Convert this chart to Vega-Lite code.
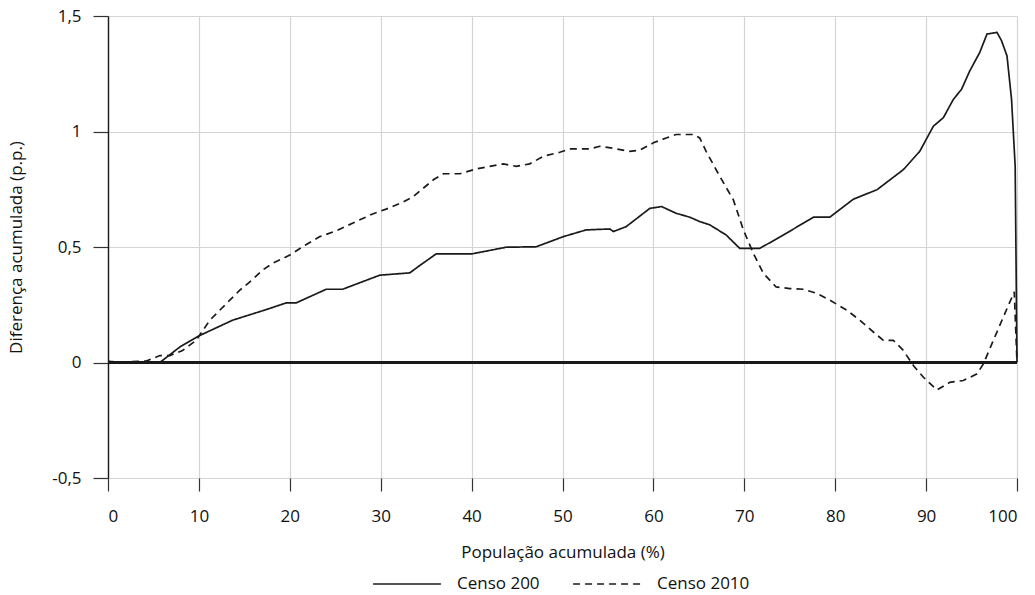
{
  "$schema": "https://vega.github.io/schema/vega-lite/v6.json",
  "width": 909,
  "height": 462,
  "autosize": "none",
  "padding": {"left": 108, "top": 16, "right": 18, "bottom": 117},
  "config": {
    "background": "white",
    "font": "Open Sans",
    "view": {"stroke": null},
    "axis": {
      "labelFont": "Open Sans",
      "titleFont": "Open Sans",
      "labelFontSize": 17,
      "titleFontSize": 17,
      "titleFontWeight": "normal",
      "labelColor": "#111111",
      "titleColor": "#111111",
      "grid": true,
      "gridColor": "#d4d4d4",
      "gridWidth": 1.2,
      "tickColor": "#333333",
      "tickWidth": 1.2
    },
    "legend": {
      "labelFont": "Open Sans",
      "labelFontSize": 17,
      "labelColor": "#111111"
    }
  },
  "data": {
    "values": [
      {"pop": 0, "dif": 0.005, "serie": "Censo 200"},
      {"pop": 2, "dif": 0, "serie": "Censo 200"},
      {"pop": 5.7, "dif": 0, "serie": "Censo 200"},
      {"pop": 7.9, "dif": 0.067, "serie": "Censo 200"},
      {"pop": 10.1, "dif": 0.117, "serie": "Censo 200"},
      {"pop": 13.7, "dif": 0.183, "serie": "Censo 200"},
      {"pop": 17.4, "dif": 0.229, "serie": "Censo 200"},
      {"pop": 19.6, "dif": 0.258, "serie": "Censo 200"},
      {"pop": 20.7, "dif": 0.258, "serie": "Censo 200"},
      {"pop": 24.0, "dif": 0.317, "serie": "Censo 200"},
      {"pop": 25.8, "dif": 0.317, "serie": "Censo 200"},
      {"pop": 29.9, "dif": 0.378, "serie": "Censo 200"},
      {"pop": 33.2, "dif": 0.388, "serie": "Censo 200"},
      {"pop": 34.3, "dif": 0.42, "serie": "Censo 200"},
      {"pop": 36.1, "dif": 0.47, "serie": "Censo 200"},
      {"pop": 40.0, "dif": 0.47, "serie": "Censo 200"},
      {"pop": 43.8, "dif": 0.499, "serie": "Censo 200"},
      {"pop": 47.1, "dif": 0.501, "serie": "Censo 200"},
      {"pop": 50.1, "dif": 0.545, "serie": "Censo 200"},
      {"pop": 52.6, "dif": 0.574, "serie": "Censo 200"},
      {"pop": 55.2, "dif": 0.578, "serie": "Censo 200"},
      {"pop": 55.6, "dif": 0.567, "serie": "Censo 200"},
      {"pop": 57.0, "dif": 0.588, "serie": "Censo 200"},
      {"pop": 59.6, "dif": 0.667, "serie": "Censo 200"},
      {"pop": 60.9, "dif": 0.675, "serie": "Censo 200"},
      {"pop": 62.5, "dif": 0.646, "serie": "Censo 200"},
      {"pop": 64.0, "dif": 0.629, "serie": "Censo 200"},
      {"pop": 65.1, "dif": 0.61, "serie": "Censo 200"},
      {"pop": 66.2, "dif": 0.596, "serie": "Censo 200"},
      {"pop": 68.0, "dif": 0.552, "serie": "Censo 200"},
      {"pop": 69.5, "dif": 0.494, "serie": "Censo 200"},
      {"pop": 71.7, "dif": 0.494, "serie": "Censo 200"},
      {"pop": 74.3, "dif": 0.552, "serie": "Censo 200"},
      {"pop": 77.6, "dif": 0.629, "serie": "Censo 200"},
      {"pop": 79.4, "dif": 0.629, "serie": "Censo 200"},
      {"pop": 82.0, "dif": 0.707, "serie": "Censo 200"},
      {"pop": 84.6, "dif": 0.748, "serie": "Censo 200"},
      {"pop": 87.5, "dif": 0.835, "serie": "Censo 200"},
      {"pop": 89.3, "dif": 0.914, "serie": "Censo 200"},
      {"pop": 90.8, "dif": 1.023, "serie": "Censo 200"},
      {"pop": 91.9, "dif": 1.06, "serie": "Censo 200"},
      {"pop": 93.0, "dif": 1.139, "serie": "Censo 200"},
      {"pop": 93.9, "dif": 1.183, "serie": "Censo 200"},
      {"pop": 94.8, "dif": 1.262, "serie": "Censo 200"},
      {"pop": 95.9, "dif": 1.342, "serie": "Censo 200"},
      {"pop": 96.7, "dif": 1.422, "serie": "Censo 200"},
      {"pop": 97.8, "dif": 1.429, "serie": "Censo 200"},
      {"pop": 98.3, "dif": 1.393, "serie": "Censo 200"},
      {"pop": 98.9, "dif": 1.327, "serie": "Censo 200"},
      {"pop": 99.4, "dif": 1.139, "serie": "Censo 200"},
      {"pop": 99.8, "dif": 0.849, "serie": "Censo 200"},
      {"pop": 100, "dif": 0, "serie": "Censo 200"},

      {"pop": 0, "dif": 0, "serie": "Censo 2010"},
      {"pop": 4.2, "dif": 0.006, "serie": "Censo 2010"},
      {"pop": 5.7, "dif": 0.03, "serie": "Censo 2010"},
      {"pop": 6.8, "dif": 0.03, "serie": "Censo 2010"},
      {"pop": 8.2, "dif": 0.052, "serie": "Censo 2010"},
      {"pop": 9.7, "dif": 0.096, "serie": "Censo 2010"},
      {"pop": 11.2, "dif": 0.183, "serie": "Censo 2010"},
      {"pop": 13.4, "dif": 0.27, "serie": "Censo 2010"},
      {"pop": 14.5, "dif": 0.313, "serie": "Censo 2010"},
      {"pop": 15.9, "dif": 0.359, "serie": "Censo 2010"},
      {"pop": 17.0, "dif": 0.4, "serie": "Censo 2010"},
      {"pop": 18.1, "dif": 0.429, "serie": "Censo 2010"},
      {"pop": 20.0, "dif": 0.465, "serie": "Censo 2010"},
      {"pop": 21.4, "dif": 0.501, "serie": "Censo 2010"},
      {"pop": 23.3, "dif": 0.545, "serie": "Censo 2010"},
      {"pop": 25.1, "dif": 0.57, "serie": "Censo 2010"},
      {"pop": 26.9, "dif": 0.603, "serie": "Censo 2010"},
      {"pop": 29.1, "dif": 0.643, "serie": "Censo 2010"},
      {"pop": 30.6, "dif": 0.664, "serie": "Censo 2010"},
      {"pop": 32.4, "dif": 0.693, "serie": "Censo 2010"},
      {"pop": 33.6, "dif": 0.719, "serie": "Censo 2010"},
      {"pop": 35.8, "dif": 0.791, "serie": "Censo 2010"},
      {"pop": 36.9, "dif": 0.817, "serie": "Censo 2010"},
      {"pop": 38.7, "dif": 0.817, "serie": "Censo 2010"},
      {"pop": 40.5, "dif": 0.838, "serie": "Censo 2010"},
      {"pop": 42.0, "dif": 0.849, "serie": "Censo 2010"},
      {"pop": 43.5, "dif": 0.86, "serie": "Censo 2010"},
      {"pop": 44.9, "dif": 0.849, "serie": "Censo 2010"},
      {"pop": 46.4, "dif": 0.86, "serie": "Censo 2010"},
      {"pop": 47.9, "dif": 0.893, "serie": "Censo 2010"},
      {"pop": 49.7, "dif": 0.91, "serie": "Censo 2010"},
      {"pop": 50.8, "dif": 0.925, "serie": "Censo 2010"},
      {"pop": 53.0, "dif": 0.925, "serie": "Censo 2010"},
      {"pop": 54.1, "dif": 0.936, "serie": "Censo 2010"},
      {"pop": 55.6, "dif": 0.927, "serie": "Censo 2010"},
      {"pop": 57.4, "dif": 0.914, "serie": "Censo 2010"},
      {"pop": 58.5, "dif": 0.919, "serie": "Censo 2010"},
      {"pop": 60.0, "dif": 0.951, "serie": "Censo 2010"},
      {"pop": 61.4, "dif": 0.972, "serie": "Censo 2010"},
      {"pop": 62.5, "dif": 0.987, "serie": "Censo 2010"},
      {"pop": 64.4, "dif": 0.987, "serie": "Censo 2010"},
      {"pop": 65.1, "dif": 0.972, "serie": "Censo 2010"},
      {"pop": 65.8, "dif": 0.914, "serie": "Censo 2010"},
      {"pop": 67.3, "dif": 0.806, "serie": "Censo 2010"},
      {"pop": 68.8, "dif": 0.704, "serie": "Censo 2010"},
      {"pop": 69.9, "dif": 0.574, "serie": "Censo 2010"},
      {"pop": 71.0, "dif": 0.472, "serie": "Censo 2010"},
      {"pop": 72.1, "dif": 0.386, "serie": "Censo 2010"},
      {"pop": 73.5, "dif": 0.327, "serie": "Censo 2010"},
      {"pop": 75.0, "dif": 0.32, "serie": "Censo 2010"},
      {"pop": 76.5, "dif": 0.317, "serie": "Censo 2010"},
      {"pop": 78.0, "dif": 0.299, "serie": "Censo 2010"},
      {"pop": 79.4, "dif": 0.27, "serie": "Censo 2010"},
      {"pop": 81.3, "dif": 0.226, "serie": "Censo 2010"},
      {"pop": 82.7, "dif": 0.183, "serie": "Censo 2010"},
      {"pop": 84.2, "dif": 0.132, "serie": "Censo 2010"},
      {"pop": 85.3, "dif": 0.096, "serie": "Censo 2010"},
      {"pop": 86.4, "dif": 0.096, "serie": "Censo 2010"},
      {"pop": 87.5, "dif": 0.052, "serie": "Censo 2010"},
      {"pop": 88.6, "dif": -0.013, "serie": "Censo 2010"},
      {"pop": 89.7, "dif": -0.064, "serie": "Censo 2010"},
      {"pop": 91.2, "dif": -0.119, "serie": "Censo 2010"},
      {"pop": 92.6, "dif": -0.086, "serie": "Censo 2010"},
      {"pop": 94.1, "dif": -0.078, "serie": "Censo 2010"},
      {"pop": 95.6, "dif": -0.049, "serie": "Censo 2010"},
      {"pop": 96.3, "dif": -0.006, "serie": "Censo 2010"},
      {"pop": 97.4, "dif": 0.096, "serie": "Censo 2010"},
      {"pop": 98.5, "dif": 0.197, "serie": "Censo 2010"},
      {"pop": 99.7, "dif": 0.306, "serie": "Censo 2010"},
      {"pop": 100, "dif": 0, "serie": "Censo 2010"}
    ]
  },
  "layer": [
    {
      "mark": {"type": "line", "color": "#1a1a1a", "strokeWidth": 1.7},
      "encoding": {
        "x": {
          "field": "pop",
          "type": "quantitative",
          "scale": {"domain": [0, 100], "nice": false},
          "axis": {
            "title": "População acumulada (%)",
            "values": [0, 10, 20, 30, 40, 50, 60, 70, 80, 90, 100],
            "grid": true,
            "domain": false,
            "tickSize": 13,
            "labelPadding": 17,
            "titlePadding": 20
          }
        },
        "y": {
          "field": "dif",
          "type": "quantitative",
          "scale": {"domain": [-0.5, 1.5], "nice": false},
          "axis": {
            "title": "Diferença acumulada (p.p.)",
            "values": [-0.5, 0, 0.5, 1, 1.5],
            "grid": true,
            "labelExpr": "replace(toString(datum.value), '.', ',')",
            "domainColor": "#1a1a1a",
            "domainWidth": 1.4,
            "tickSize": 15,
            "labelPadding": 12,
            "titlePadding": 26
          }
        },
        "strokeDash": {
          "field": "serie",
          "type": "nominal",
          "scale": {"domain": ["Censo 200", "Censo 2010"], "range": [[1, 0], [7, 5]]},
          "legend": {
            "title": null,
            "orient": "none",
            "legendX": 264,
            "legendY": 533,
            "direction": "horizontal",
            "symbolType": "stroke",
            "symbolSize": 4600,
            "symbolStrokeWidth": 1.5,
            "symbolStrokeColor": "#1a1a1a",
            "labelOffset": 15,
            "columnPadding": 30
          }
        },
        "order": {"field": "pop", "type": "quantitative"}
      }
    },
    {
      "mark": {"type": "rule", "color": "#1a1a1a", "strokeWidth": 1.4},
      "encoding": {"y": {"datum": 0, "type": "quantitative"}}
    }
  ]
}
